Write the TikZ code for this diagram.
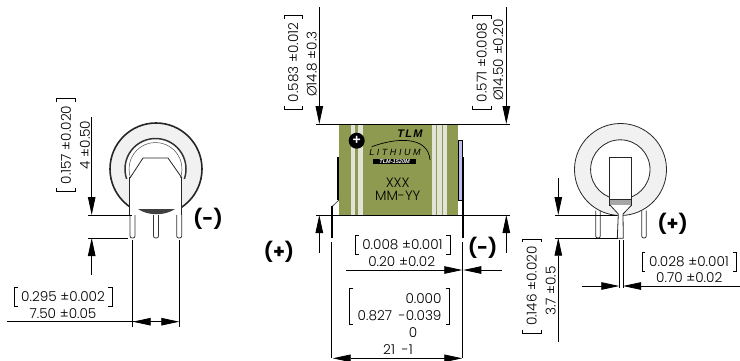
\documentclass[tikz,border=0pt]{standalone}
\usepackage{fontspec}
\setmainfont{Poppins}[UprightFont=* Light,BoldFont=* Bold]
\newfontfamily\labelfont{Liberation Sans}
\usetikzlibrary{arrows.meta,calc}
\definecolor{olive}{HTML}{8E9A50}
\definecolor{ringgray}{HTML}{F1F1F1}
\definecolor{stripegray}{HTML}{E2E4D8}
\begin{document}
\begin{tikzpicture}[x=1pt,y=-1pt,%
         dimtext/.style={inner sep=0pt,font=\fontsize{13.6}{14}\selectfont},
         brk/.style={dimtext,inner xsep=7pt,inner ysep=0pt,minimum height=18pt},
         pol/.style={inner sep=0pt,font=\fontsize{19}{20}\selectfont\bfseries},
         ext/.style={line width=.8pt},
         dim/.style={line width=.8pt,-{Triangle[length=18pt,width=7.5pt]}},
         part/.style={line width=.8pt,draw=black!85},
         pinshape/.style={line width=.8pt,draw=black!80,fill=white,rounded corners=2pt}]
        \useasboundingbox (0,0) rectangle (740,360);

        \fill [ringgray] (156,169) circle [radius=46pt];
        \draw [line width=1.6pt,black!85] (156,169) circle [radius=46pt];
        \begin{scope}
          \clip (100,110) rectangle (212,178);
          \draw [line width=1.5pt,black!80,fill=white] (155.5,169) circle [radius=30.5pt];
          \draw [line width=.5pt,black!70] (155.5,169) circle [radius=26.5pt];
        \end{scope}
        \fill [white] (129.5,178) rectangle (181.7,217);
        \draw [part] (130,178) -- (143,158) -- (168,158) -- (182,178);
        \draw [part] (129.5,177) -- (129.5,215);
        \draw [part] (181.7,177) -- (181.7,215);
        \foreach \pinx in {130,153.5,176.7}
          \draw [pinshape] (\pinx,215) -- (\pinx,238) -- ++(5,0) -- ++(0,-23);
        \fill [black!75] (138,209) -- (175,209) .. controls (165,216) and (148,216) .. (138,209);
        \draw [ext] (88,215) -- (132,215);
        \draw [ext] (88,238) -- (128,238);
        \draw [ext] (132.7,240) -- (132.7,327);
        \draw [ext] (179.3,240) -- (179.3,327);
        \draw [dim] (91.7,117) -- (91.7,215);
        \draw [dim] (91.7,275) -- (91.7,238);
        \draw [dim] (7,321.7) -- (179.3,321.7);
        \draw [dim] (151.7,321.7) -- (132.7,321.7);
        \node [brk,rotate=90] (leftheightin) at (66,145) {0.157 ±0.020};
        \node [dimtext,rotate=90] (leftheightmm) at (85,145) {4 ±0.50};
        \node [brk] (leftspanin) at (63,297) {0.295 ±0.002};
        \node [dimtext] (leftspanmm) at (63,314) {7.50 ±0.05};
        \node [pol] (leftpol) at (208,219) {(-)};

        \fill [olive] (339.3,124) rectangle (458.3,215);
        \foreach \sa/\sb in {350.7/355,358.3/362.7,431.7/436,437.3/441.7,442.7/447.3}
          \fill [stripegray] (\sa,124) rectangle (\sb,215);
        \draw [line width=1.8pt] (338.3,157) -- (338.3,200);
        \draw [line width=.8pt,black!70] (339,200) -- (331.7,207);
        \draw [line width=1.8pt] (331.7,206) -- (331.7,238);
        \draw [ext] (331.7,242) -- (331.7,358);
        \draw [line width=.6pt,fill=black!30!blue!25] (458.3,140) rectangle (462.5,200);
        \draw [line width=1.8pt] (462.7,157) -- (462.7,238);
        \draw [ext] (462.3,242) -- (462.3,358);
        \node [circle,fill=black,minimum size=16pt,inner sep=0pt,text=white,font=\labelfont\bfseries\fontsize{14}{14}\selectfont] (pluscell) at (356.7,140.7) {+};
        \draw [line width=.7pt] (371.7,146.7) .. controls (395,138) and (428,135) .. (430,160);
        \node [inner sep=0pt,font=\labelfont\itshape\bfseries\fontsize{11}{11}\selectfont] (brandtop) at (410,134) {\addfontfeature{LetterSpace=12}TLM};
        \node [inner sep=0pt,font=\labelfont\itshape\fontsize{9}{9}\selectfont] (brandmid) at (395,152) {\addfontfeature{LetterSpace=28}LITHIUM};
        \node [fill=black,text=white,inner sep=0pt,minimum width=43pt,minimum height=5pt,font=\labelfont\itshape\bfseries\fontsize{5.6}{5}\selectfont] (brandbox) at (394.6,161.8) {TLM-1520M};
        \node [dimtext] (lotcode) at (397.7,183) {XXX};
        \node [dimtext] (datecode) at (397.7,195.7) {MM-YY};
        \draw [ext] (316,124) -- (510,124);
        \draw [ext] (316,215) -- (510,215);
        \foreach \dimx in {319.3,506.3} {
          \draw [dim] (\dimx,7) -- (\dimx,124);
          \draw [dim] (\dimx,253) -- (\dimx,215);
        }
        \draw [dim] (346,270) -- (462.3,270);
        \draw [dim] (501.7,270) -- (463.3,270);
        \draw [dim] (398,358.3) -- (332.7,358.3);
        \draw [dim] (398,358.3) -- (462.3,358.3);
        \node [brk,rotate=90] (bodydiain) at (293.3,62.5) {0.583 ±0.012};
        \node [dimtext,rotate=90] (bodydiamm) at (311.7,64) {Ø14.8 ±0.3};
        \node [brk,rotate=90] (capdiain) at (481.7,62.5) {0.571 ±0.008};
        \node [dimtext,rotate=90] (capdiamm) at (498.3,60) {Ø14.50 ±0.20};
        \node [brk] (leadin) at (402.5,245) {0.008 ±0.001};
        \node [dimtext] (leadmm) at (401.7,262) {0.20 ±0.02};
        \node [inner sep=0pt,minimum width=99pt,minimum height=35pt] (lengthin) at (399.5,306.5) {};
        \node [dimtext,anchor=east] (lengthinhi) at (441.7,299) {0.000};
        \node [dimtext,anchor=east] (lengthinlo) at (441.7,315.7) {0.827\hspace{3pt} -0.039};
        \node [dimtext] (lengthzero) at (413,332.7) {0};
        \node [dimtext] (lengthmm) at (398,350) {21\hspace{3pt} -1};
        \node [pol] (midplus) at (279,251.7) {(+)};
        \node [pol] (midminus) at (482.7,248) {(-)};

        \fill [ringgray] (620.5,169.5) circle [radius=46pt];
        \foreach \pinx in {595.7,641.7}
          \draw [pinshape] (\pinx,210.7) -- (\pinx,238) -- ++(4.6,0) -- ++(0,-27.3);
        \draw [part,fill=ringgray] (620.5,169.5) circle [radius=46pt];
        \draw [part,fill=white] (620.3,169.5) circle [radius=29.7pt];
        \draw [part,fill=white] (609.3,157.3) rectangle (631.7,205);
        \draw [part,fill=black!35] (609.3,199.3) rectangle (631.7,205);
        \draw [part,fill=white] (610,205) -- (618.3,214) -- (617.3,238.3) -- (623.3,238.3) -- (623,214) -- (631.7,205);
        \draw [ext] (619.3,240) -- (619.3,288);
        \draw [ext] (623,240) -- (623,288);
        \draw [ext] (555,215) -- (616.7,215);
        \draw [ext] (555,238) -- (618.3,238);
        \draw [dim] (558.3,178.3) -- (558.3,215);
        \draw [dim] (558.3,341.7) -- (558.3,237.7);
        \draw [dim] (581.7,286) -- (619.3,286);
        \draw [dim] (740,286) -- (623,286);
        \node [brk,rotate=90] (rightstubin) at (531.7,286) {0.146 ±0.020};
        \node [dimtext,rotate=90] (rightstubmm) at (550.7,291) {3.7 ±0.5};
        \node [brk] (rightpinin) at (689,261.7) {0.028 ±0.001};
        \node [dimtext] (rightpinmm) at (689.3,277.7) {0.70 ±0.02};
        \node [pol] (rightpol) at (672.7,224.3) {(+)};

        \foreach \boxname in {leftheightin,leftspanin,bodydiain,capdiain,leadin,lengthin,rightstubin,rightpinin} {
          \draw [line width=.7pt] ($(\boxname.north west)!3.5pt!(\boxname.north east)$) -- (\boxname.north west) -- (\boxname.south west) -- ($(\boxname.south west)!3.5pt!(\boxname.south east)$);
          \draw [line width=.7pt] ($(\boxname.north east)!3.5pt!(\boxname.north west)$) -- (\boxname.north east) -- (\boxname.south east) -- ($(\boxname.south east)!3.5pt!(\boxname.south west)$);
        }
      \end{tikzpicture}
\end{document}
